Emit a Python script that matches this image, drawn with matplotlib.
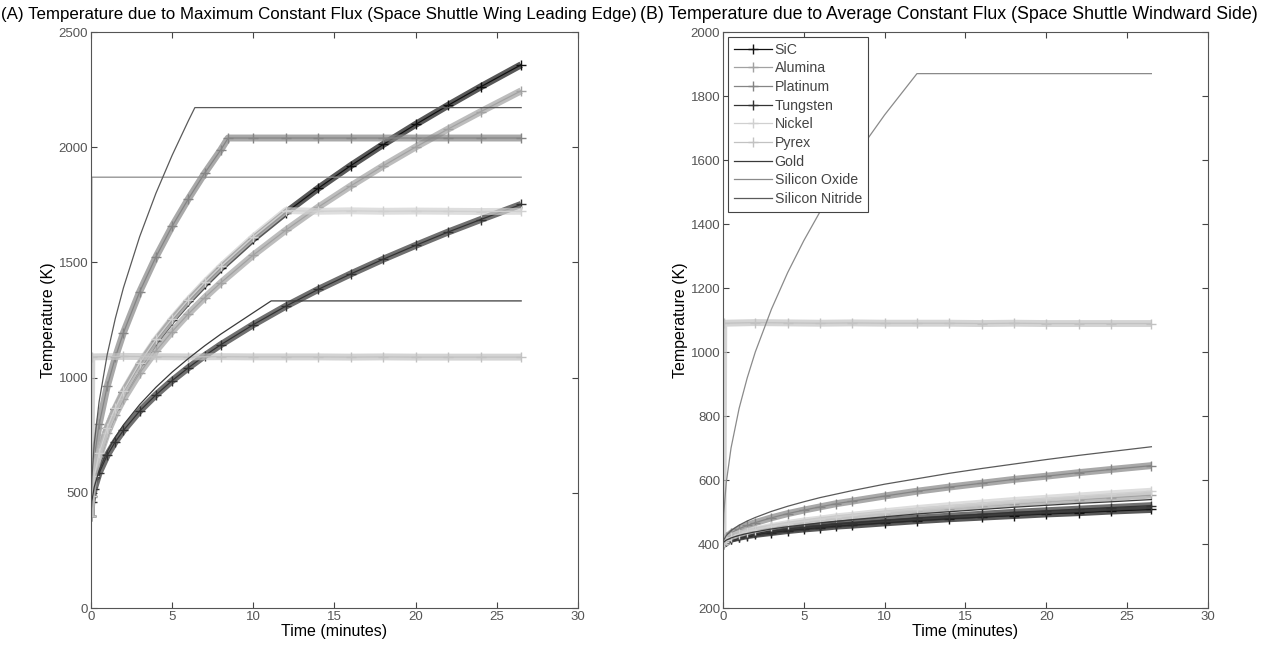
import matplotlib
matplotlib.use('Agg')
import matplotlib.pyplot as plt

plt.rcParams['font.family'] = ['Liberation Sans', 'DejaVu Sans']

# time grid (minutes)
T_STD = [0, 0.05, 0.2, 0.5, 1, 1.5, 2, 3, 4, 5, 6, 7, 8, 10, 12, 14, 16, 18, 20, 22, 24, 26.5]
T_FLAT = [0, 0.05, 2, 4, 6, 8, 10, 12, 14, 16, 18, 20, 22, 24, 26.5]

# ---- (A) maximum flux, wing leading edge ----
a_sic = [400, 485, 570, 669, 780, 865, 937, 1058, 1160, 1250, 1331, 1405, 1475, 1602, 1716, 1822,
         1920, 2012, 2099, 2182, 2262, 2358]
a_alumina = [400, 480, 560, 653, 758, 839, 906, 1020, 1116, 1200, 1277, 1347, 1412, 1532, 1640, 1740,
             1832, 1919, 2001, 2079, 2154, 2245]
a_tungsten = [400, 459, 517, 586, 663, 722, 771, 855, 925, 987, 1043, 1095, 1143, 1230, 1310, 1383,
              1450, 1514, 1574, 1632, 1686, 1752]
t_platinum = [0, 0.05, 0.2, 0.5, 1, 1.5, 2, 3, 4, 5, 6, 7, 8, 8.45, 10, 12, 14, 16, 18, 20, 22, 24, 26.5]
a_platinum = [400, 526, 651, 797, 962, 1088, 1195, 1373, 1524, 1657, 1776, 1887, 1989, 2040, 2040, 2040,
              2040, 2040, 2040, 2040, 2040, 2040, 2040]
t_nickel = [0, 0.05, 0.2, 0.5, 1, 1.5, 2, 3, 4, 5, 6, 7, 8, 10, 12, 14, 16, 18, 20, 22, 24, 26.5]
a_nickel = [400, 486, 571, 671, 783, 869, 942, 1063, 1166, 1256, 1338, 1413, 1483, 1611, 1725, 1722,
            1724, 1722, 1723, 1722, 1721, 1722]
a_pyrex = [400, 1090, 1092, 1091, 1090, 1091, 1090, 1090, 1090, 1089, 1090, 1089, 1089, 1089, 1089]
t_gold_a = [0, 0.05, 0.2, 0.5, 1, 1.5, 2, 3, 4, 5, 6, 7, 8, 10, 11.1, 26.5]
a_gold = [400, 462, 525, 597, 679, 742, 795, 883, 958, 1024, 1083, 1138, 1189, 1282, 1333, 1333]
t_sio_a = [0, 0.05, 26.5]
a_sio = [400, 1870, 1870]
t_sin_a = [0, 0.05, 0.2, 0.5, 1, 1.5, 2, 3, 4, 5, 6, 6.4, 26.5]
a_sin = [400, 557, 713, 895, 1100, 1257, 1390, 1612, 1800, 1965, 2115, 2172, 2172]

# ---- (B) average flux, windward side ----
b_sic = [400, 405, 409, 415, 421, 426, 430, 436, 442, 447, 451, 456, 459, 466, 473, 479, 484, 489,
         494, 498, 503, 508]
b_alumina = [400, 407, 413, 421, 430, 436, 442, 451, 459, 466, 473, 479, 484, 494, 503, 511, 519,
             526, 533, 539, 545, 553]
b_platinum = [400, 411, 421, 434, 448, 458, 467, 482, 495, 506, 516, 526, 534, 550, 565, 578, 590,
              602, 612, 623, 633, 645]
b_tungsten = [400, 405, 410, 416, 423, 429, 433, 440, 447, 452, 457, 462, 466, 474, 481, 487, 493,
              499, 504, 509, 514, 520]
b_nickel = [400, 407, 414, 423, 432, 439, 445, 455, 464, 472, 478, 485, 490, 501, 511, 520, 528,
            536, 543, 550, 557, 565]
b_pyrex = [400, 1090, 1092, 1091, 1090, 1091, 1090, 1090, 1090, 1089, 1090, 1089, 1089, 1089, 1089]
b_gold = [400, 406, 412, 419, 427, 433, 438, 447, 454, 460, 466, 471, 476, 485, 494, 501, 508, 515,
          521, 527, 532, 539]
t_sio_b = [0, 0.05, 0.2, 0.5, 1, 1.5, 2, 3, 4, 5, 6, 7, 8, 10, 12, 26.5]
b_sio = [400, 495, 590, 700, 824, 919, 1000, 1134, 1248, 1348, 1438, 1522, 1599, 1741, 1870, 1870]
b_sin = [400, 413, 426, 442, 459, 472, 483, 502, 518, 532, 545, 556, 567, 587, 604, 621, 636, 650,
         664, 677, 689, 704]

NAMES = ['SiC', 'Alumina', 'Platinum', 'Tungsten', 'Nickel', 'Pyrex', 'Gold', 'Silicon Oxide',
         'Silicon Nitride']
COLORS = {'SiC': '#111111', 'Alumina': '#a2a2a2', 'Platinum': '#858585', 'Tungsten': '#333333',
          'Nickel': '#d0d0d0', 'Pyrex': '#c2c2c2', 'Gold': '#3a3a3a', 'Silicon Oxide': '#8a8a8a',
          'Silicon Nitride': '#5a5a5a'}
MARKED = ['SiC', 'Alumina', 'Platinum', 'Tungsten', 'Nickel', 'Pyrex']

panel_a = {'SiC': (T_STD, a_sic), 'Alumina': (T_STD, a_alumina), 'Platinum': (t_platinum, a_platinum),
           'Tungsten': (T_STD, a_tungsten), 'Nickel': (t_nickel, a_nickel), 'Pyrex': (T_FLAT, a_pyrex),
           'Gold': (t_gold_a, a_gold), 'Silicon Oxide': (t_sio_a, a_sio),
           'Silicon Nitride': (t_sin_a, a_sin)}
panel_b = {'SiC': (T_STD, b_sic), 'Alumina': (T_STD, b_alumina), 'Platinum': (T_STD, b_platinum),
           'Tungsten': (T_STD, b_tungsten), 'Nickel': (T_STD, b_nickel), 'Pyrex': (T_FLAT, b_pyrex),
           'Gold': (T_STD, b_gold), 'Silicon Oxide': (t_sio_b, b_sio),
           'Silicon Nitride': (T_STD, b_sin)}

fig = plt.figure(figsize=(12.67, 6.51), dpi=100, facecolor='white')
ax1 = fig.add_axes([0.0718, 0.066, 0.3844, 0.8848])
ax2 = fig.add_axes([0.5706, 0.066, 0.3828, 0.8848])


def draw(ax, data):
    for name in NAMES:
        t, v = data[name]
        c = COLORS[name]
        if name in MARKED:
            # dense "+" markers in the original read as a hatched band
            ax.plot(t, v, color=c, lw=5.0, alpha=0.7, solid_capstyle='butt')
            ax.plot(t, v, color=c, lw=0.9, marker='+', ms=7, mew=1.0, label=name)
        else:
            ax.plot(t, v, color=c, lw=0.9, label=name)


draw(ax1, panel_a)
draw(ax2, panel_b)

for ax in (ax1, ax2):
    ax.set_xlim(0, 30)
    ax.set_xticks(range(0, 31, 5))
    ax.tick_params(direction='in', top=True, right=True, length=4, width=0.8,
                   labelsize=9.5, labelcolor='#555555', color='#444444', pad=2)
    for s in ax.spines.values():
        s.set_color('#555555')
        s.set_linewidth(0.8)
    ax.set_xlabel('Time (minutes)', fontsize=11.5, labelpad=1)
    ax.set_ylabel('Temperature (K)', fontsize=11.5, labelpad=2)

ax1.set_ylim(0, 2500)
ax1.set_yticks(range(0, 2501, 500))
ax2.set_ylim(200, 2000)
ax2.set_yticks(range(200, 2001, 200))

leg = ax2.legend(loc='upper left', fontsize=10.2, handlelength=2.7, handletextpad=0.2,
                 labelspacing=0.33, borderpad=0.4, fancybox=False, framealpha=1,
                 borderaxespad=0.35)
leg.get_frame().set_edgecolor('#444444')
leg.get_frame().set_linewidth(0.8)
for txt in leg.get_texts():
    txt.set_color('#444444')

fig.text(0.001, 0.978, '(A) Temperature due to Maximum Constant Flux (Space Shuttle Wing Leading Edge)',
         ha='left', va='center', fontsize=12.2)
fig.text(0.505, 0.978, '(B) Temperature due to Average Constant Flux (Space Shuttle Windward Side)',
         ha='left', va='center', fontsize=12.8)

fig.savefig('out.png', dpi=100, facecolor='white')
